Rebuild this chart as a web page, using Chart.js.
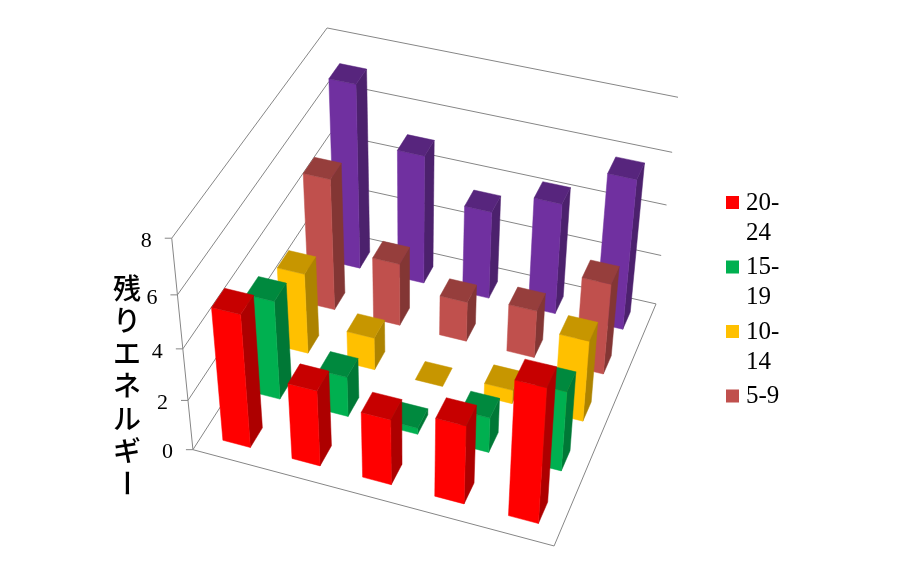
<!DOCTYPE html>
<html>
<head>
<meta charset="utf-8">
<style>
  html, body { margin: 0; background: #fff; }
</style>
<script src="https://cdn.jsdelivr.net/npm/chart.js@4"></script>
</head>
<body>
<canvas id="chart" width="922" height="566"></canvas>
<script>
// chart data
const categories = ['1', '2', '3', '4', '5'];
const seriesNames = ['20-24', '15-19', '10-14', '5-9', '0-4'];
const legendLines = [['20-', '24'], ['15-', '19'], ['10-', '14'], ['5-9']];
const values2024 = [5.2, 3, 2.6, 3.1, 5.25];
const values1519 = [3.9, 1.6, 0.25, 1.4, 3.15];
const values1014 = [3.2, 1.3, 0, 0.55, 3.2];
const values59 = [5.2, 2.5, 1.6, 1.9, 3.6];
const values04 = [7.25, 5.1, 3.5, 4.4, 5.9];
const seriesColors = ['#FF0000', '#00B050', '#FFC000', '#C0504D', '#7030A0'];
const axisTitle = ['残', 'り', 'エ', 'ネ', 'ル', 'ギ', 'ー'];

// screen positions of the plot box corners, used to fit the 3D view
// [u (along categories), w (into depth), h (up), screen x, screen y]
const viewAnchors = [
    [0, 0, 0, 193, 450], [0, 0, 0.25, 188, 400], [0, 0, 0.5, 183, 349], [0, 0, 0.75, 177, 295], [0, 0, 1, 172, 238],
    [1, 0, 0, 554, 546],
    [1, 1, 0, 656, 304], [1, 1, 0.25, 661, 255], [1, 1, 0.5, 667, 205], [1, 1, 0.75, 672, 153], [1, 1, 1, 678, 97],
    [0, 1, 1, 327, 28]
];
const BAR_FRACTION = 0.4;
const GRID_COLOR = '#868686';

/**
 * Least squares fit of a 3x4 projection matrix to the anchor points
 */
function fitProjection(anchors) {
    const n = 11;
    const ata = Array.from({ length: n }, () => new Array(n + 1).fill(0));
    const addRow = (row, rhs) => {
        for (let i = 0; i < n; i++) {
            for (let j = 0; j < n; j++) ata[i][j] += row[i] * row[j];
            ata[i][n] += row[i] * rhs;
        }
    };
    anchors.forEach(([u, w, h, x, y]) => {
        addRow([u, w, h, 1, 0, 0, 0, 0, -x * u, -x * w, -x * h], x);
        addRow([0, 0, 0, 0, u, w, h, 1, -y * u, -y * w, -y * h], y);
    });
    for (let c = 0; c < n; c++) {
        let pivot = c;
        for (let r = c + 1; r < n; r++) {
            if (Math.abs(ata[r][c]) > Math.abs(ata[pivot][c])) pivot = r;
        }
        [ata[c], ata[pivot]] = [ata[pivot], ata[c]];
        for (let r = 0; r < n; r++) {
            if (r === c) continue;
            const f = ata[r][c] / ata[c][c];
            for (let k = c; k <= n; k++) ata[r][k] -= f * ata[c][k];
        }
    }
    return ata.map((row, i) => row[n] / row[i]);
}

const m = fitProjection(viewAnchors);

function project(u, w, h) {
    const d = m[8] * u + m[9] * w + m[10] * h + 1;
    return [
        (m[0] * u + m[1] * w + m[2] * h + m[3]) / d,
        (m[4] * u + m[5] * w + m[6] * h + m[7]) / d
    ];
}

function shade(hex, factor) {
    const n = parseInt(hex.slice(1), 16);
    const r = Math.round((n >> 16) * factor);
    const g = Math.round(((n >> 8) & 255) * factor);
    const b = Math.round((n & 255) * factor);
    return `rgb(${r}, ${g}, ${b})`;
}

function fillFace(ctx, points, color) {
    ctx.beginPath();
    points.forEach((p, i) => (i ? ctx.lineTo(p[0], p[1]) : ctx.moveTo(p[0], p[1])));
    ctx.closePath();
    ctx.fillStyle = color;
    ctx.strokeStyle = color;
    ctx.lineWidth = 0.5;
    ctx.fill();
    ctx.stroke();
}

function strokeLine(ctx, a, b) {
    ctx.beginPath();
    ctx.moveTo(a[0], a[1]);
    ctx.lineTo(b[0], b[1]);
    ctx.stroke();
}

/**
 * Bar controller that draws each bar as a box in the 3D view
 */
class Bar3dController extends Chart.BarController {
    draw() {
        const chart = this.chart;
        const ctx = chart.ctx;
        const { x: xScale, y: yScale, z: zScale } = chart.scales;
        const index = this.index;
        const color = seriesColors[index];
        const w = (zScale.getPixelForValue(index) - zScale.left) / zScale.width;
        const halfU = BAR_FRACTION / categories.length / 2;
        const halfW = BAR_FRACTION / seriesNames.length / 2;
        const data = chart.data.datasets[index].data;

        data.forEach((value, i) => {
            const u = (xScale.getPixelForValue(i) - xScale.left) / xScale.width;
            const h = (yScale.bottom - yScale.getPixelForValue(value)) / yScale.height;
            const u0 = u - halfU, u1 = u + halfU, w0 = w - halfW, w1 = w + halfW;
            if (h > 0) {
                fillFace(ctx, [project(u1, w0, 0), project(u1, w1, 0), project(u1, w1, h), project(u1, w0, h)], shade(color, 0.68));
                fillFace(ctx, [project(u0, w0, 0), project(u1, w0, 0), project(u1, w0, h), project(u0, w0, h)], color);
            }
            fillFace(ctx, [project(u0, w0, h), project(u1, w0, h), project(u1, w1, h), project(u0, w1, h)], shade(color, 0.78));
        });
    }
}
Bar3dController.id = 'bar3d';
Bar3dController.defaults = Chart.BarController.defaults;
Bar3dController.overrides = Chart.BarController.overrides;
Chart.register(Bar3dController);

// walls, floor, value ticks, stacked axis title and the wrapped legend
const boxAxesPlugin = {
    id: 'boxAxes',
    beforeDatasetsDraw(chart) {
        const ctx = chart.ctx;
        const yScale = chart.scales.y;
        ctx.save();
        ctx.strokeStyle = GRID_COLOR;
        ctx.lineWidth = 1;

        strokeLine(ctx, project(0, 0, 0), project(1, 0, 0));
        strokeLine(ctx, project(1, 0, 0), project(1, 1, 0));
        strokeLine(ctx, project(0, 0, 0), project(0, 0, 1));

        ctx.font = '22px "Liberation Serif"';
        ctx.fillStyle = '#000';
        ctx.textAlign = 'right';
        ctx.textBaseline = 'middle';
        yScale.ticks.forEach(tick => {
            const h = (yScale.bottom - yScale.getPixelForValue(tick.value)) / yScale.height;
            const front = project(0, 0, h);
            const corner = project(0, 1, h);
            strokeLine(ctx, front, corner);
            strokeLine(ctx, corner, project(1, 1, h));
            strokeLine(ctx, [front[0] - 7, front[1]], front);
            ctx.fillText(String(tick.value), front[0] - 20, front[1] + 3);
        });

        // the long vowel mark stands upright in vertical writing
        ctx.font = '500 28px "Noto Sans CJK JP"';
        ctx.textAlign = 'center';
        axisTitle.forEach((ch, i) => {
            const y = 288 + i * 32.5;
            if (ch === 'ー') {
                ctx.save();
                ctx.translate(127, y);
                ctx.rotate(Math.PI / 2);
                ctx.fillText(ch, 0, 0);
                ctx.restore();
            } else {
                ctx.fillText(ch, 127, y);
            }
        });

        ctx.font = '25px "Liberation Serif"';
        ctx.textAlign = 'left';
        let y = 203;
        legendLines.forEach((lines, i) => {
            ctx.fillStyle = seriesColors[i];
            ctx.fillRect(726, y - 7, 13, 13);
            ctx.fillStyle = '#000';
            lines.forEach((line, k) => ctx.fillText(line, 746, y + k * 30));
            y += lines.length * 30 + 4.5;
        });
        ctx.restore();
    }
};

const datasetValues = [values2024, values1519, values1014, values59, values04];

new Chart(document.getElementById('chart'), {
    type: 'bar3d',
    data: {
        labels: categories,
        datasets: seriesNames.map((name, i) => ({
            label: name,
            data: datasetValues[i],
            backgroundColor: seriesColors[i]
        }))
    },
    options: {
        responsive: false,
        animation: false,
        devicePixelRatio: 1,
        scales: {
            x: { display: false, offset: true },
            y: { display: false, min: 0, max: 8, ticks: { stepSize: 2 } },
            z: { axis: 'x', type: 'category', labels: seriesNames, display: false, offset: true }
        },
        plugins: {
            tooltip: { enabled: false },
            legend: { display: false }
        }
    },
    plugins: [boxAxesPlugin]
});
</script>
</body>
</html>
